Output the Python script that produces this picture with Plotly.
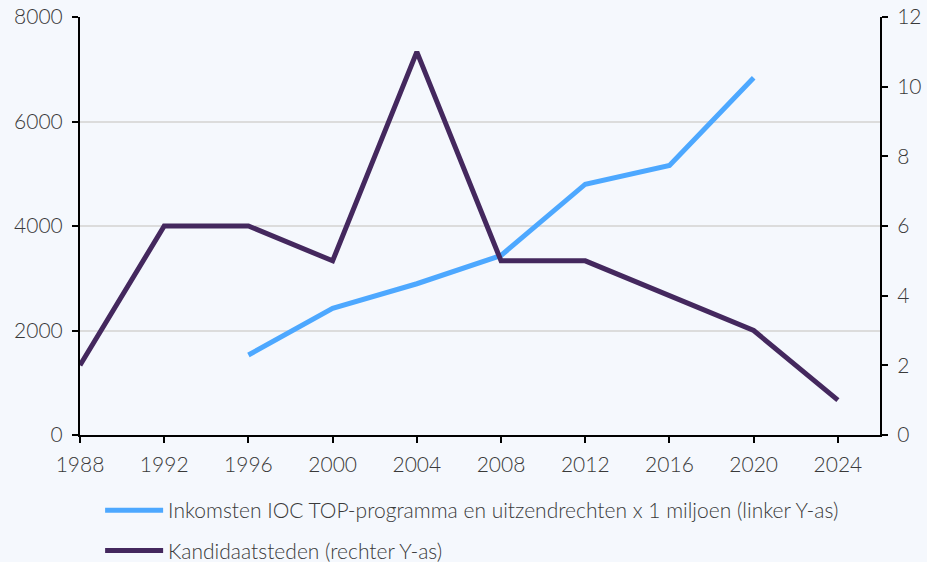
import plotly.graph_objects as go

years_revenue = [1996, 2000, 2004, 2008, 2012, 2016, 2020]
revenue = [1530, 2424, 2895, 3436, 4800, 5160, 6839]

years_cities = [1988, 1992, 1996, 2000, 2004, 2008, 2012, 2016, 2020, 2024]
cities = [2, 6, 6, 5, 11, 5, 5, 4, 3, 1]

x_ticks = [1988, 1992, 1996, 2000, 2004, 2008, 2012, 2016, 2020, 2024]
left_ticks = [0, 2000, 4000, 6000, 8000]
right_ticks = [0, 2, 4, 6, 8, 10, 12]

name_rev = "Inkomsten IOC TOP-programma en uitzendrechten x 1 miljoen (linker Y-as)"
name_cit = "Kandidaatsteden (rechter Y-as)"

BG = "#F5F8FD"
FONT = "Lato"
TXT = "#3a3a3a"

fig = go.Figure()
fig.add_trace(go.Scatter(x=years_revenue, y=revenue, mode="lines", name=name_rev,
                         line=dict(color="#4DA8FF", width=5), legendgroup="a"))
fig.add_trace(go.Scatter(x=years_cities, y=cities, mode="lines", name=name_cit,
                         line=dict(color="#44285E", width=5), yaxis="y2", legendgroup="b"))

axis_common = dict(showline=True, linecolor="black", linewidth=2,
                   ticks="outside", tickcolor="black", tickwidth=2, ticklen=6,
                   zeroline=False, automargin=False)

fig.update_layout(
    width=927, height=562,
    paper_bgcolor=BG, plot_bgcolor=BG,
    font=dict(family=FONT, size=21, color=TXT, weight=300),
    margin=dict(l=80, r=47, t=17, b=127, autoexpand=False),
    xaxis=dict(range=[1988, 2026], tickvals=x_ticks, showgrid=False,
               ticklabelstandoff=4, **axis_common),
    yaxis=dict(range=[0, 8000], tickvals=left_ticks, showgrid=True,
               gridcolor="#DCDCDC", gridwidth=2, ticklabelstandoff=5, **axis_common),
    yaxis2=dict(range=[0, 12], tickvals=right_ticks, overlaying="y", side="right",
                showgrid=False, ticklabelstandoff=5, **axis_common),
    legend=dict(orientation="v", xref="container", yref="container",
                x=0.108, xanchor="left", y=0.128, yanchor="top",
                bgcolor="rgba(0,0,0,0)", font=dict(size=21, color=TXT, weight=300),
                tracegroupgap=10, itemwidth=58),
    showlegend=True,
)

fig.write_html(
    "out.html",
    config={"displayModeBar": False},
    post_script="document.body.style.margin='0';document.body.style.background='#F5F8FD';"
                "document.documentElement.style.background='#F5F8FD';",
)
